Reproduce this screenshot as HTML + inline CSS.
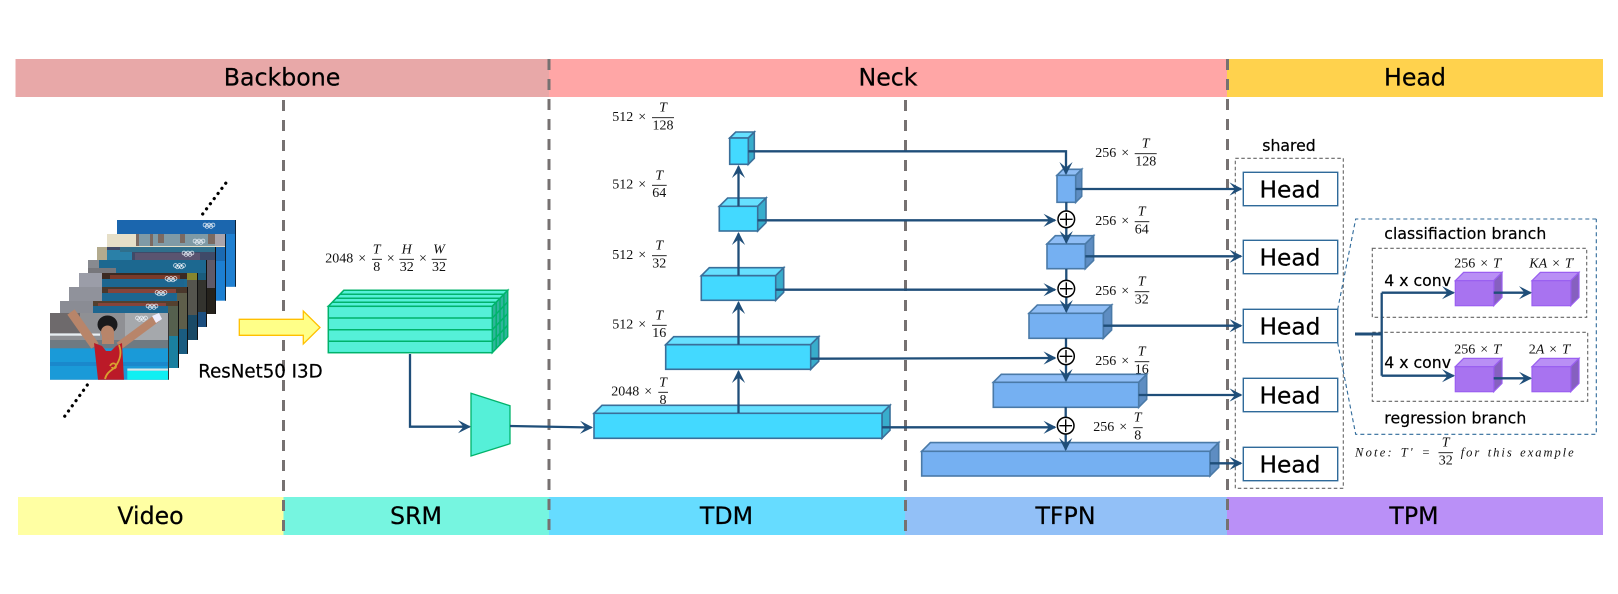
<!DOCTYPE html>
<html><head><meta charset="utf-8"><style>
html,body{margin:0;padding:0;background:#fff}
svg{display:block}
.t{font-family:"DejaVu Sans","Liberation Sans",sans-serif;fill:#000;stroke:#000;stroke-width:.22}
.b{font-size:23.7px;text-anchor:middle}
.m{font-family:"Liberation Serif","DejaVu Serif",serif;font-size:14px;fill:#111;word-spacing:1.4px}
.mc{text-anchor:middle}
.i{font-style:italic}
.c{fill:none;stroke:#1f4e79;stroke-width:2.3}
.a{marker-end:url(#ah)}
.d{fill:none;stroke:#767171;stroke-width:3;stroke-dasharray:11 9}
.f1{fill:#43d9ff}.f2{fill:#66e0ff}.f3{fill:#38adcc}
.g1{fill:#75b0f2}.g2{fill:#8fbdf5}.g3{fill:#5e8dc2}
.p1{fill:#a873f0}.p2{fill:#b98ff5}.p3{fill:#8660c0}
.tdm *{stroke:#3a6f9a;stroke-width:1.6}
.tf *{stroke:#4a7aa8;stroke-width:1.6}
.pu *{stroke:#9a5ff0;stroke-width:1.2}
.h{fill:#fff;stroke:#2f6a9a;stroke-width:1.4}
.ht{font-size:23.3px;text-anchor:middle}
.pl{fill:#fff;stroke:#000;stroke-width:1.5}
.pls{stroke:#000;stroke-width:1.4;fill:none}
.gd{fill:none;stroke:#666;stroke-width:1.1;stroke-dasharray:3.5 2.5}
.bd{fill:none;stroke:#2f6a9a;stroke-width:1.1;stroke-dasharray:4 3}
.l{font-size:15.7px}
.fl{stroke:#111;stroke-width:.9}
</style></head><body>
<svg width="1618" height="594" viewBox="0 0 1618 594" xmlns="http://www.w3.org/2000/svg">
<defs>
<marker id="ah" markerUnits="userSpaceOnUse" markerWidth="18" markerHeight="18" viewBox="-15 -9 18 18" refX="0" refY="0" orient="auto"><path d="M1.5,0 L-11.5,-6.6 L-6,0 L-11.5,6.6 Z" fill="#1f4e79"/></marker>
<g id="r" fill="none" stroke="#e8eef5" stroke-width=".7"><circle cx="-4" cy="0" r="1.9"/><circle cx="0" cy="0" r="1.9"/><circle cx="4" cy="0" r="1.9"/><circle cx="-2" cy="1.4" r="1.9"/><circle cx="2" cy="1.4" r="1.9"/></g>
</defs>
<rect width="1618" height="594" fill="#fff"/>

<!-- bars -->
<rect x="15.5" y="59" width="533.5" height="38" fill="#e8a8a8"/>
<rect x="549" y="59" width="678" height="38" fill="#ffa6a6"/>
<rect x="1227" y="59" width="376" height="38" fill="#ffd24d"/>
<rect x="18" y="497" width="265.5" height="38" fill="#ffffa3"/>
<rect x="283.5" y="497" width="265.5" height="38" fill="#76f5e0"/>
<rect x="549" y="497" width="356" height="38" fill="#66dcff"/>
<rect x="905" y="497" width="322" height="38" fill="#92c0f7"/>
<rect x="1227" y="497" width="376" height="38" fill="#ba90f7"/>
<text class="t b" x="282" y="85.5">Backbone</text>
<text class="t b" x="888" y="85.5">Neck</text>
<text class="t b" x="1415" y="85.5">Head</text>
<text class="t b" x="150.5" y="524">Video</text>
<text class="t b" x="416" y="524">SRM</text>
<text class="t b" x="726.5" y="524">TDM</text>
<text class="t b" x="1065.5" y="524">TFPN</text>
<text class="t b" x="1414" y="524">TPM</text>

<!-- dashed separators -->
<path class="d" d="M283.5,100V537"/>
<path class="d" d="M549,59V537"/>
<path class="d" d="M905.5,100V537"/>
<path class="d" d="M1227.5,59V537"/>

<!-- dotted -->
<path d="M202.7,214L228.7,179.3M87.3,385L62,420" fill="none" stroke="#000" stroke-width="3.2" stroke-linecap="round" stroke-dasharray="0.1 6.3"/>

<!-- frames -->
<g>
<rect x="117" y="220" width="118.7" height="66.7" fill="#1b66ae"/><rect x="225" y="234" width="10.7" height="52.7" fill="#1f80d2"/><rect x="235" y="220" width="1" height="66.7" fill="#123"/>
<use href="#r" x="209" y="225"/>
</g>
<g>
<rect x="107" y="234" width="118.700" height="66.7" fill="#1c7fd2"/><rect x="107" y="234" width="118.7" height="13" fill="#e6dfc8"/><rect x="137" y="234" width="78" height="12" fill="#7f9aa6"/><path d="M136,234h3v12h-3zM150,234h3v12h-3zM158,234h6v9h-6zM180,234h5v9h-5zM208,234h12v10h-12z" fill="#7b6a62"/><rect x="215" y="234" width="10.7" height="12" fill="#a9a4ac"/><rect x="215" y="247" width="10.7" height="14" fill="#1a6ab2"/><rect x="225" y="234" width="1" height="66.7" fill="#123"/>
<use href="#r" x="199" y="241"/>
</g>
<g>
<rect x="97" y="247" width="118.7" height="66.7" fill="#2a2a2c"/><rect x="97" y="247" width="118.7" height="13" fill="#3f4a68"/><rect x="97" y="247" width="10" height="13" fill="#b3ab8e"/><rect x="107" y="250" width="25" height="10" fill="#2a80a8"/><rect x="120" y="247" width="96" height="5" fill="#2f6f8c"/><path d="M135,253h65v7h-65z" fill="#5a5470"/><rect x="206" y="260" width="10" height="28" fill="#5f5a68"/><rect x="206" y="288" width="10" height="26" fill="#25221c"/><rect x="215" y="247" width="1" height="66.7" fill="#111"/>
<use href="#r" x="188" y="253"/>
</g>
<g>
<rect x="88" y="260" width="118.7" height="66.7" fill="#1c6890"/><rect x="88" y="260" width="11" height="13" fill="#888a90"/><path d="M88,268h28v5h-28z" fill="#77777c"/><rect x="196" y="273" width="11" height="7" fill="#1a5c7c"/><rect x="196" y="280" width="11" height="32" fill="#33332e"/><rect x="196" y="312" width="11" height="15" fill="#1c4f80"/><rect x="206" y="260" width="1" height="66.7" fill="#111"/>
<use href="#r" x="179.500" y="265.500"/>
</g>
<g>
<rect x="79" y="273" width="118.7" height="66.700" fill="#1d6a92"/><rect x="79" y="273" width="23" height="14" fill="#9b9da8"/><rect x="102" y="273" width="96" height="6" fill="#3c2a22"/><path d="M110,275h70v4h-70z" fill="#7a3a2a"/><rect x="102" y="279" width="82" height="8" fill="#1d6690"/><rect x="187" y="273" width="11" height="7" fill="#86862e"/><rect x="187" y="280" width="11" height="35" fill="#55554e"/><rect x="187" y="315" width="11" height="25" fill="#1a4a66"/><rect x="197" y="273" width="1" height="66.7" fill="#111"/>
<use href="#r" x="171" y="278.500"/>
</g>
<g>
<rect x="69" y="287" width="118.7" height="66.7" fill="#1c6a94"/><rect x="69" y="287" width="33" height="14" fill="#90929b"/><rect x="102" y="287" width="86" height="6" fill="#4a382c"/><path d="M108,289h68v4h-68z" fill="#86443a"/><rect x="102" y="293" width="74" height="8" fill="#1d6690"/><rect x="177" y="293" width="11" height="36" fill="#5e5e4a"/><rect x="177" y="329" width="11" height="25" fill="#1a5c80"/><rect x="187" y="287" width="1" height="66.7" fill="#111"/>
<use href="#r" x="161" y="292.500"/>
</g>
<g>
<rect x="60" y="301" width="118.7" height="66.7" fill="#1c6a94"/><rect x="60" y="301" width="33" height="12" fill="#8a8c94"/><rect x="93" y="301" width="86" height="5" fill="#54402e"/><path d="M98,303h68v3h-68z" fill="#86443a"/><rect x="93" y="306" width="75" height="7" fill="#1d6690"/><rect x="168" y="306" width="11" height="30" fill="#55604e"/><rect x="168" y="336" width="11" height="32" fill="#1a80a0"/><rect x="178" y="301" width="1" height="66.7" fill="#111"/>
<use href="#r" x="152" y="306"/>
</g>
<g>
<rect x="50" y="313" width="118.700" height="66.700" fill="#8f9094"/>
<rect x="50" y="313" width="30" height="20" fill="#6e6a6c"/>
<rect x="125" y="313" width="43.700" height="35" fill="#a5a8ac"/>
<rect x="50" y="333.500" width="50" height="2.200" fill="#e8eef2"/>
<rect x="50" y="340" width="118.700" height="8.500" fill="#6f7a82"/>
<rect x="50" y="348.300" width="118.700" height="31.400" fill="#1a9ad8"/>
<rect x="50" y="362" width="118.700" height="4" fill="#1a88cc"/>
<path d="M71,312L95,346" stroke="#b8856a" stroke-width="9" fill="none"/>
<path d="M157,318L119,346" stroke="#b8856a" stroke-width="8" fill="none"/>
<path d="M152,316l7,-3l3,6l-6,4z" fill="#eef"/>
<rect x="102" y="330" width="12" height="14" fill="#b8856a"/>
<ellipse cx="107.500" cy="324.500" rx="10" ry="9" fill="#1a1a1c"/>
<ellipse cx="107.500" cy="332" rx="6.500" ry="6.500" fill="#b8856a"/>
<path d="M94,343l8,3l4,5h5l5,-5l6,-3l2,36.700h-26z" fill="#bb1a28"/>
<path d="M119,345c4,10 -1,18 -4,22c-2,3 -8,4 -10,12M110,366c2,-4 6,-3 6,0c0,3 -4,3 -4,1" stroke="#d8a030" stroke-width="1.800" fill="none"/>
<rect x="127.300" y="370.700" width="41.400" height="9" fill="#10eff2"/>
<rect x="127.300" y="368.500" width="41.400" height="2.200" fill="#d8e8e8"/>
<use href="#r" x="141.500" y="318"/>
<rect x="168" y="313" width="1" height="66.700" fill="#333"/>
</g>

<!-- yellow arrow -->
<path d="M239.300,319.300H303.300V311L320,327.500L303.300,344V335.300H239.300Z" fill="#ffff88" stroke="#ffc000" stroke-width="1.300"/>
<text class="t" x="198.300" y="377.700" style="font-size:18.200px">ResNet50 I3D</text>

<!-- SRM -->
<g stroke="#00b36b" stroke-width="1.500">
<polygon points="328.300,306.300 343.800,290.300 507.700,290.300 492.300,306.300" fill="#55f0d8"/>
<polygon points="492.300,306.300 507.700,290.300 507.700,336.700 492.300,352.700" fill="#2fb59c"/>
<rect x="328.300" y="306.300" width="164" height="46.400" fill="#55f0d8"/>
<path d="M328.300,318H492.300M328.300,329.700H492.300M328.300,341.300H492.300M332.200,302.300H496.200M336,298.300H500M339.900,294.300H503.900M492.300,318L507.700,302M492.300,329.700L507.700,313.700M492.300,341.300L507.700,325.300M496.200,302.300V348.700M500,298.300V344.700M503.900,294.300V340.700" fill="none"/>
</g>
<polygon points="471,393.300 510,405.700 510,443.700 471,456" fill="#55f0d8" stroke="#00b36b" stroke-width="1.300"/>

<!-- TDM cubes -->
<g class="tdm">
<polygon class="f2" points="729.700,138 735.700,132 754.300,132 748.300,138"/><polygon class="f3" points="748.300,138 754.300,132 754.300,158.300 748.300,164.300"/><rect class="f1" x="729.700" y="138" width="18.600" height="26.300"/>
<polygon class="f2" points="719.300,206.300 727.600,198 766,198 757.700,206.300"/><polygon class="f3" points="757.700,206.300 766,198 766,222.700 757.700,231"/><rect class="f1" x="719.300" y="206.300" width="38.400" height="24.700"/>
<polygon class="f2" points="701.300,275.700 709.300,267.700 783.700,267.700 775.700,275.700"/><polygon class="f3" points="775.700,275.700 783.700,267.700 783.700,292.300 775.700,300.300"/><rect class="f1" x="701.300" y="275.700" width="74.400" height="24.600"/>
<polygon class="f2" points="665.700,344.700 673.700,336.700 818.700,336.700 810.700,344.700"/><polygon class="f3" points="810.700,344.700 818.700,336.700 818.700,361.300 810.700,369.300"/><rect class="f1" x="665.700" y="344.700" width="145" height="24.600"/>
<polygon class="f2" points="594,413.300 602,405.300 890,405.300 882,413.300"/><polygon class="f3" points="882,413.300 890,405.300 890,430.300 882,438.300"/><rect class="f1" x="594" y="413.300" width="288" height="25"/>
</g>

<!-- TFPN cubes -->
<g class="tf">
<polygon class="g2" points="1057,175.300 1063,169.300 1081.700,169.300 1075.700,175.300"/><polygon class="g3" points="1075.700,175.300 1081.700,169.300 1081.700,196.300 1075.700,202.300"/><rect class="g1" x="1057" y="175.300" width="18.700" height="27"/>
<polygon class="g2" points="1047,244 1055.300,235.700 1093.600,235.700 1085.300,244"/><polygon class="g3" points="1085.300,244 1093.600,235.700 1093.600,260.400 1085.300,268.700"/><rect class="g1" x="1047" y="244" width="38.300" height="24.700"/>
<polygon class="g2" points="1029,313.300 1037.300,305 1111.600,305 1103.300,313.300"/><polygon class="g3" points="1103.300,313.300 1111.600,305 1111.600,330 1103.300,338.300"/><rect class="g1" x="1029" y="313.300" width="74.300" height="25"/>
<polygon class="g2" points="993.300,382.300 1001.300,374.300 1146.700,374.300 1138.700,382.300"/><polygon class="g3" points="1138.700,382.300 1146.700,374.300 1146.700,399.300 1138.700,407.300"/><rect class="g1" x="993.300" y="382.300" width="145.400" height="25"/>
<polygon class="g2" points="921.700,451.300 930.400,442.600 1218.700,442.600 1210,451.300"/><polygon class="g3" points="1210,451.300 1218.700,442.600 1218.700,467.300 1210,476"/><rect class="g1" x="921.700" y="451.300" width="288.300" height="24.700"/>
</g>

<!-- head boxes -->
<rect class="gd" x="1235.300" y="158.300" width="108" height="330"/>
<rect class="h" x="1243.300" y="172.300" width="94.400" height="33.400"/>
<rect class="h" x="1243.300" y="240.300" width="94.400" height="33.400"/>
<rect class="h" x="1243.300" y="309.300" width="94.400" height="33.400"/>
<rect class="h" x="1243.300" y="378.300" width="94.400" height="33.400"/>
<rect class="h" x="1243.300" y="447.300" width="94.400" height="33.400"/>
<g class="t"><text class="ht" x="1290" y="197.500">Head</text><text class="ht" x="1290" y="265.500">Head</text><text class="ht" x="1290" y="334.500">Head</text><text class="ht" x="1290" y="403.500">Head</text><text class="ht" x="1290" y="472.500">Head</text></g>
<text class="t" x="1289" y="151" text-anchor="middle" style="font-size:15.7px">shared</text>

<!-- connectors -->
<path class="c a" d="M410,354V426.700H469.500"/>
<path class="c a" d="M510,426L591.500,427.500"/>
<path class="c a" d="M738.500,413V371.500"/>
<path class="c a" d="M738.500,344.700V302.500"/>
<path class="c a" d="M738.500,275.700V233.500"/>
<path class="c a" d="M738.500,206.300V166.500"/>
<path class="c a" d="M748.300,151.300H1066V173.500"/>
<path class="c a" d="M757.700,220.300H1055"/>
<path class="c a" d="M775.700,289.700H1055"/>
<path class="c a" d="M810.700,358.700L1055,358"/>
<path class="c a" d="M882,427.300H1055"/>
<path class="c" d="M1066.300,202V212M1066.300,269V281M1066,338V349M1065.700,407V418"/>
<path class="c a" d="M1066.300,227V242.500"/>
<path class="c a" d="M1066.300,296V311.500"/>
<path class="c a" d="M1066,364V380.500"/>
<path class="c a" d="M1065.700,433V449.500"/>
<path class="c a" d="M1075.700,189H1241"/>
<path class="c a" d="M1085.300,256.300H1241"/>
<path class="c a" d="M1103.300,325.700H1241"/>
<path class="c a" d="M1138.700,395H1241"/>
<path class="c a" d="M1210,463.300H1241"/>
<g>
<circle class="pl" cx="1066.300" cy="219.300" r="8.300"/><path class="pls" d="M1060,219.300h12.600M1066.300,213v12.600"/>
<circle class="pl" cx="1066.300" cy="288.700" r="8.300"/><path class="pls" d="M1060,288.700h12.600M1066.300,282.400v12.600"/>
<circle class="pl" cx="1066" cy="356.300" r="8.300"/><path class="pls" d="M1059.700,356.300h12.600M1066,350v12.600"/>
<circle class="pl" cx="1065.700" cy="425.700" r="8.300"/><path class="pls" d="M1059.400,425.700h12.600M1065.700,419.400v12.600"/>
</g>

<!-- TPM detail -->
<path class="bd" d="M1596.300,219H1355.700L1337.700,309.300M1337.700,342.700L1355.700,434.300H1596.300V219"/>
<rect class="gd" x="1372.300" y="248.300" width="214.400" height="69"/>
<rect class="gd" x="1372.300" y="332.300" width="215.400" height="69"/>
<g class="t l">
<text x="1384.300" y="239" textLength="162">classifiaction branch</text>
<text x="1384.300" y="423.700" textLength="142">regression branch</text>
<text x="1384.300" y="286" textLength="66.700">4 x conv</text>
<text x="1384.300" y="368" textLength="66.700">4 x conv</text>
</g>
<g class="pu">
<polygon class="p2" points="1455.300,280.700 1463.600,272.400 1502,272.400 1493.700,280.700"/><polygon class="p3" points="1493.700,280.700 1502,272.400 1502,297.400 1493.700,305.700"/><rect class="p1" x="1455.300" y="280.700" width="38.400" height="25"/>
<polygon class="p2" points="1532,280.700 1540.300,272.400 1579,272.400 1570.700,280.700"/><polygon class="p3" points="1570.700,280.700 1579,272.400 1579,297.400 1570.700,305.700"/><rect class="p1" x="1532" y="280.700" width="38.700" height="25"/>
<polygon class="p2" points="1455.300,366.700 1463.600,358.400 1502,358.400 1493.700,366.700"/><polygon class="p3" points="1493.700,366.700 1502,358.400 1502,383.400 1493.700,391.700"/><rect class="p1" x="1455.300" y="366.700" width="38.400" height="25"/>
<polygon class="p2" points="1532,366.700 1540.300,358.400 1579,358.400 1570.700,366.700"/><polygon class="p3" points="1570.700,366.700 1579,358.400 1579,383.400 1570.700,391.700"/><rect class="p1" x="1532" y="366.700" width="38.700" height="25"/>
</g>
<path class="c" style="stroke-width:3" d="M1355,334H1381.700"/>
<path class="c" d="M1381.700,292.700V375.700"/>
<path class="c a" d="M1381.700,292.700H1453.500"/>
<path class="c a" d="M1381.700,375.700H1453.500"/>
<path class="c a" d="M1493.700,292.700H1530.500"/>
<path class="c a" d="M1493.700,378.300H1530.500"/>
<g class="m">
<text x="1454.300" y="267.700">256 × <tspan class="i">T</tspan><tspan dy="-4" font-size="8">'</tspan></text>
<text x="1529.300" y="267.700"><tspan class="i">KA</tspan> × <tspan class="i">T</tspan><tspan dy="-4" font-size="8">'</tspan></text>
<text x="1454.300" y="353.700">256 × <tspan class="i">T</tspan><tspan dy="-4" font-size="8">'</tspan></text>
<text x="1528.700" y="353.700">2<tspan class="i">A</tspan> × <tspan class="i">T</tspan><tspan dy="-4" font-size="8">'</tspan></text>
<text x="1355" y="456.700" class="i" textLength="75" style="font-size:12.500px">Note: T' =</text>
<text x="1460.700" y="456.700" class="i" textLength="113" style="font-size:12.500px">for this example</text>
<text x="1445.700" y="446.700" class="i mc">T</text>
<path class="fl" d="M1438.500,452.700H1453"/>
<text x="1445.700" y="464.400" class="mc">32</text>

<!-- dimension labels -->
<text x="612.300" y="121">512 ×</text><text x="663" y="111.700" class="i mc">T</text><path class="fl" d="M652,117.700H674"/><text x="663" y="129.400" class="mc">128</text>
<text x="612.300" y="188.600">512 ×</text><text x="659.300" y="179.300" class="i mc">T</text><path class="fl" d="M652,185.300H666.700"/><text x="659.300" y="197" class="mc">64</text>
<text x="612.300" y="259">512 ×</text><text x="659.300" y="249.700" class="i mc">T</text><path class="fl" d="M652,255.700H666.700"/><text x="659.300" y="267.400" class="mc">32</text>
<text x="612.300" y="328.600">512 ×</text><text x="659.300" y="319.300" class="i mc">T</text><path class="fl" d="M652,325.300H666.700"/><text x="659.300" y="337" class="mc">16</text>
<text x="611.300" y="395.600">2048 ×</text><text x="663" y="386.300" class="i mc">T</text><path class="fl" d="M658.300,392.300H668"/><text x="663" y="404" class="mc">8</text>

<text x="1095.300" y="157">256 ×</text><text x="1145.700" y="147.700" class="i mc">T</text><path class="fl" d="M1134.700,153.700H1156.700"/><text x="1145.700" y="165.400" class="mc">128</text>
<text x="1095.300" y="225">256 ×</text><text x="1141.700" y="215.700" class="i mc">T</text><path class="fl" d="M1134.700,221.700H1149.300"/><text x="1141.700" y="233.400" class="mc">64</text>
<text x="1095.300" y="295">256 ×</text><text x="1141.700" y="285.700" class="i mc">T</text><path class="fl" d="M1134.700,291.700H1149.300"/><text x="1141.700" y="303.400" class="mc">32</text>
<text x="1095.300" y="365">256 ×</text><text x="1141.700" y="355.700" class="i mc">T</text><path class="fl" d="M1134.700,361.700H1149.300"/><text x="1141.700" y="373.400" class="mc">16</text>
<text x="1093.300" y="431">256 ×</text><text x="1137.700" y="421.700" class="i mc">T</text><path class="fl" d="M1133.300,427.700H1142.700"/><text x="1137.700" y="439.400" class="mc">8</text>

<text x="325.300" y="262.600">2048 ×</text><text x="376.700" y="253.300" class="i mc">T</text><path class="fl" d="M372,259.300H382"/><text x="376.700" y="271" class="mc">8</text>
<text x="390.700" y="262.600" class="mc">×</text><text x="406.700" y="253.300" class="i mc">H</text><path class="fl" d="M399.300,259.300H414"/><text x="406.700" y="271" class="mc">32</text>
<text x="423" y="262.600" class="mc">×</text><text x="439" y="253.300" class="i mc">W</text><path class="fl" d="M431.700,259.300H446.700"/><text x="439" y="271" class="mc">32</text>
</g>
</svg>
</body></html>
